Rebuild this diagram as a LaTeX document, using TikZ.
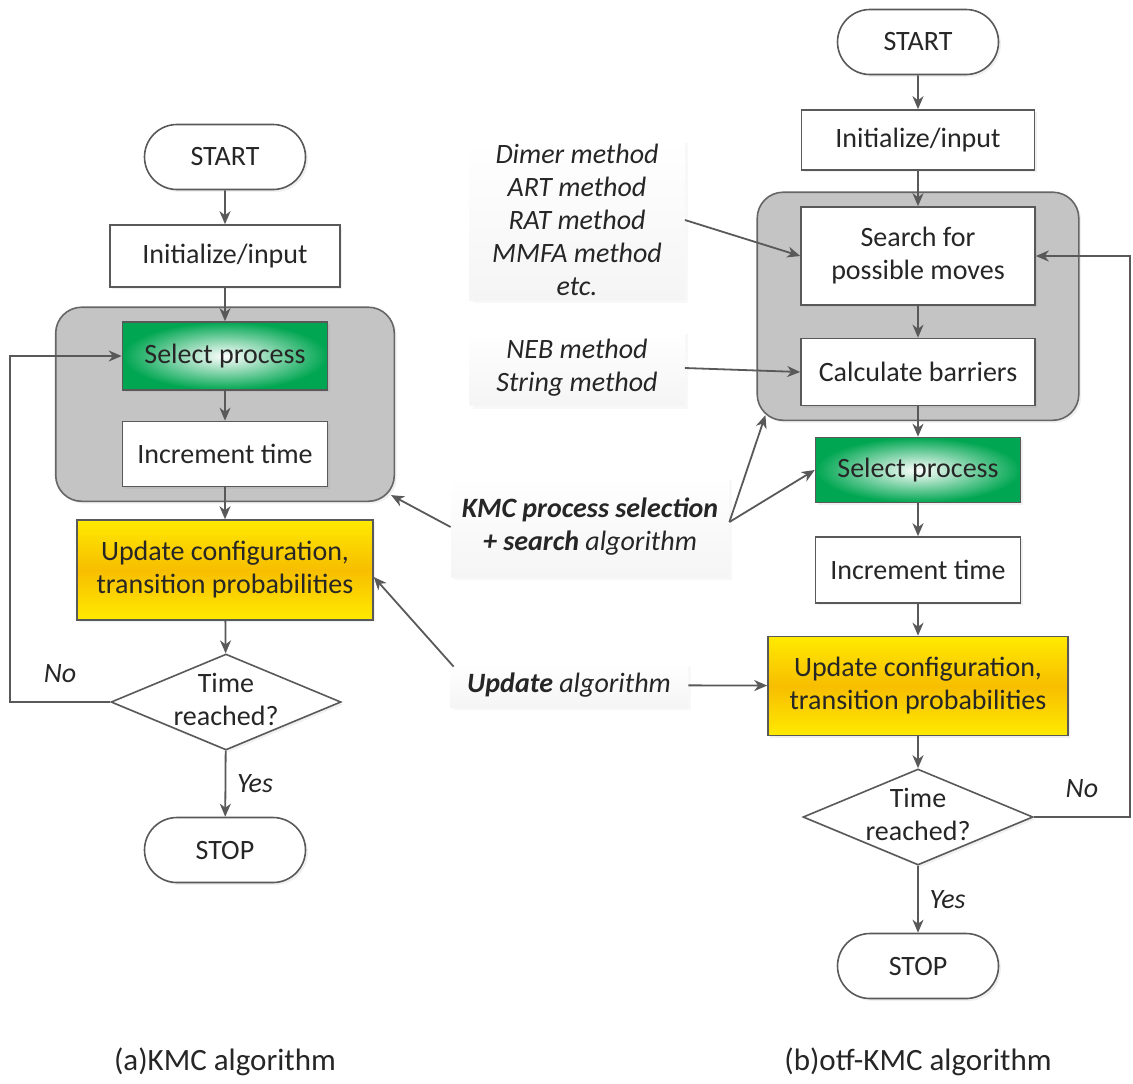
\documentclass[tikz,border=0pt]{standalone}
\usepackage{fontspec}
\setmainfont{Carlito}
\usetikzlibrary{arrows.meta,positioning,fit,backgrounds,shapes.geometric,shapes.misc,shadows}
\definecolor{linegray}{HTML}{595959}
\definecolor{boxgray}{HTML}{C4C4C4}
\definecolor{selgreen}{HTML}{00A651}
\definecolor{updyellow}{HTML}{FFEA00}
\definecolor{updorange}{HTML}{F7BE00}
\newcommand{\flowfont}{\fontsize{14}{16.5}\selectfont}
\newcommand{\capfont}{\fontsize{15.5}{18}\selectfont}
% text of zero size, so the diamond keeps its own size
\newcommand{\ztext}[1]{\makebox[0pt]{\raisebox{-4pt}[0pt][0pt]{\begin{tabular}{@{}c@{}}#1\end{tabular}}}}
\tikzset{
  flowbox/.style  = {shape=rectangle, draw=black!65, line width=0.8pt,
                     fill=white, align=center, inner sep=1pt,
                     minimum width=102.5pt, minimum height=33pt,
                     font=\flowfont, text=black!85,
                     drop shadow={opacity=0.12, shadow xshift=1.2pt, shadow yshift=-1.2pt}},
  term/.style     = {flowbox, shape=rounded rectangle,
                     minimum width=82.5pt, minimum height=32.5pt},
  sel/.style      = {flowbox, inner color=white, outer color=selgreen},
  upd/.style      = {flowbox, minimum height=50pt, top color=updyellow,
                     bottom color=updyellow, middle color=updorange},
  decision/.style = {flowbox, shape=diamond, inner sep=0pt,
                     minimum width=115pt, minimum height=48pt},
  group/.style    = {shape=rectangle, rounded corners=13pt, draw=black!60,
                     line width=0.8pt, fill=boxgray,
                     drop shadow={opacity=0.12, shadow xshift=1.2pt, shadow yshift=-1.2pt}},
  note/.style     = {shape=rectangle, top color=white, bottom color=black!4,
                     align=center, inner sep=2pt,
                     font=\flowfont\itshape, text=black!85,
                     drop shadow={opacity=0.06, shadow xshift=1.5pt, shadow yshift=-1.5pt}},
  lbl/.style      = {font=\flowfont\itshape, text=black!85},
  caption/.style  = {font=\capfont, text=black!85},
  conn/.style     = {draw=linegray, line width=0.9pt}
}

\begin{document}
\begin{tikzpicture}[->,>={Stealth[length=6.5pt,width=5.5pt,inset=2pt]},x=0.5pt,y=-0.5pt]
\useasboundingbox (0,0) rectangle (1133,1083);

% (a) KMC algorithm
\node [term] (start1) at (225,157) {START};
\node [flowbox, minimum width=115pt, minimum height=31pt] (init1) at (225,256) {Initialize/input};
\node [sel, minimum height=34pt] (sel1) at (225,356) {Select process};
\node [flowbox, minimum height=32.5pt] (inc1) at (225,454) {Increment time};
\node [upd, minimum width=148pt] (upd1) at (225,570) {Update configuration,\\transition probabilities};
\node [decision] (dec1) at (226,702) {\ztext{Time\\reached?}};
\node [term] (stop1) at (225,850) {STOP};

% (b) otf-KMC algorithm
\node [term] (start2) at (918,42) {START};
\node [flowbox, minimum width=116.5pt, minimum height=30pt] (init2) at (918,140) {Initialize/input};
\node [flowbox, minimum width=117pt, minimum height=49pt] (srch) at (918,256) {Search for\\possible moves};
\node [flowbox, minimum width=117pt, minimum height=33.5pt] (calc) at (918,372) {Calculate barriers};
\node [sel, minimum height=32.5pt] (sel2) at (918,470) {Select process};
\node [flowbox, minimum height=33pt] (inc2) at (918,570) {Increment time};
\node [upd, minimum width=150pt, minimum height=49.5pt] (upd2) at (918,686) {Update configuration,\\transition probabilities};
\node [decision] (dec2) at (918,817) {\ztext{Time\\reached?}};
\node [term] (stop2) at (918,966) {STOP};

\begin{scope}[on background layer]
  \node [group, fit=(sel1)(inc1), inner xsep=33pt, inner ysep=7pt] (grp1) {};
  \node [group, fit=(srch)(calc), inner xsep=21.5pt, inner ysep=7pt] (grp2) {};
\end{scope}

% methods in the middle
\node [note, minimum width=107.5pt, minimum height=80pt] (meth) at (577,220) {Dimer method\\ART method\\RAT method\\MMFA method\\etc.};
\node [note, minimum width=107.5pt, minimum height=37.5pt] (neb) at (577,368) {NEB method\\String method};
\node [note, minimum width=139pt, minimum height=50pt] (kmc) at (590,527) {\textbf{KMC process selection}\\\textbf{+ search} algorithm};
\node [note, minimum width=119pt, minimum height=22pt] (updalg) at (569,685) {\textbf{Update} algorithm};

\coordinate (lloop) at (10,702);
\coordinate (rloop) at (1130,817);

\foreach \a/\b in {start1/init1, init1/sel1, sel1/inc1, inc1/upd1, upd1/dec1,
                   start2/init2, init2/srch, srch/calc, calc/sel2, sel2/inc2, inc2/upd2, upd2/dec2}
  \draw [conn] (\a) -- (\b);

\draw [conn] (dec1) -- node [lbl, right=2pt] {Yes} (stop1);
\draw [conn] (dec2) -- node [lbl, right=2pt] {Yes} (stop2);
\draw [conn] (dec1.west) -- node [lbl, above=6pt] {No} (lloop) |- (sel1.west);
\draw [conn] (dec2.east) -- node [lbl, above=6pt] {No} (rloop) |- (srch.east);

\draw [conn] (meth.east) -- (srch.west);
\draw [conn] (neb.east) -- (calc.west);
\draw [conn] (kmc.west) -- ([shift={(-4,-7)}]grp1.south east);
\draw [conn] ([shift={(0,-5)}]kmc.east) -- ([shift={(9,-6)}]grp2.south west);
\draw [conn] ([shift={(0,-5)}]kmc.east) -- (sel2.west);
\draw [conn] ([shift={(4,4)}]updalg.north west) -- ([shift={(0,7)}]upd1.east);
\draw [conn] (updalg) -- (upd2);

\node [caption] (capa) at (225,1062) {(a)KMC algorithm};
\node [caption] (capb) at (918,1062) {(b)otf-KMC algorithm};
\end{tikzpicture}
\end{document}
